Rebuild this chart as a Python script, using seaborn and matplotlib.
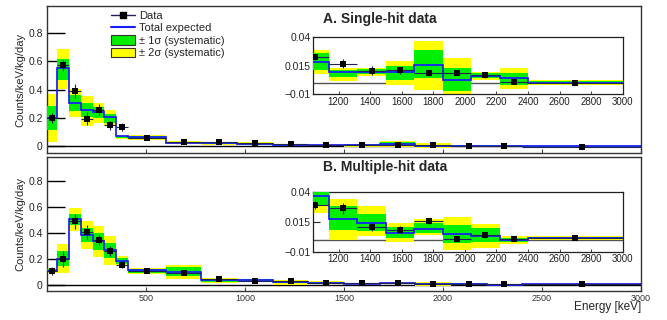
import numpy as np
import seaborn as sns
import matplotlib.pyplot as plt
from matplotlib.lines import Line2D
from matplotlib.patches import Patch

# Binning (keV)
edges = [0, 50, 110, 170, 230, 290, 350, 410, 600, 780, 960, 1140, 1320,
         1500, 1680, 1860, 2040, 2220, 2400, 3000]
energy = [25, 80, 140, 200, 260, 320, 380, 505, 690, 870, 1050, 1230, 1410,
          1590, 1770, 1950, 2130, 2310, 2700]

# A. Single-hit
data_a = [0.202, 0.572, 0.393, 0.195, 0.259, 0.148, 0.136, 0.062, 0.031, 0.031,
          0.0224, 0.0165, 0.0103, 0.0109, 0.0085, 0.0085, 0.0068, 0.0006, -0.0003]
err_a = [0.033, 0.04, 0.05, 0.047, 0.04, 0.035, 0.03, 0.006, 0.004, 0.004,
         0.0025, 0.004, 0.004, 0.003, 0.003, 0.002, 0.0025, 0.002, 0.001]
model_a = [0.202, 0.553, 0.306, 0.259, 0.24, 0.205, 0.071, 0.064, 0.028, 0.022,
           0.0185, 0.0091, 0.0098, 0.0091, 0.0153, 0.0024, 0.0059, 0.0041, 0.0]
g_lo_a = [0.118, 0.47, 0.247, 0.21, 0.2, 0.169, 0.06, 0.056, 0.022, 0.016,
          0.0112, 0.0047, 0.0076, 0.0024, 0.0038, -0.007, 0.0038, -0.002, -0.0012]
g_hi_a = [0.287, 0.619, 0.365, 0.31, 0.278, 0.23, 0.075, 0.075, 0.033, 0.028,
          0.0265, 0.0112, 0.012, 0.015, 0.0288, 0.0126, 0.0082, 0.0088, 0.0012]
y_lo_a = [0.035, 0.405, 0.207, 0.146, 0.169, 0.146, 0.052, 0.047, 0.018, 0.012,
          0.0076, 0.0015, 0.0059, -0.002, -0.0065, -0.012, 0.0024, -0.006, -0.002]
y_hi_a = [0.372, 0.689, 0.405, 0.358, 0.306, 0.254, 0.082, 0.082, 0.038, 0.032,
          0.0288, 0.0126, 0.0126, 0.0191, 0.0368, 0.022, 0.0097, 0.0132, 0.002]

# B. Multiple-hit
data_b = [0.105, 0.197, 0.487, 0.403, 0.344, 0.259, 0.154, 0.105, 0.09, 0.044,
          0.0293, 0.0265, 0.0108, 0.0085, 0.0156, 0.0004, 0.0038, 0.0004, 0.0015]
err_b = [0.03, 0.058, 0.06, 0.055, 0.04, 0.036, 0.03, 0.008, 0.008, 0.006,
         0.003, 0.0045, 0.0035, 0.003, 0.0025, 0.0025, 0.002, 0.0015, 0.001]
model_b = [0.105, 0.197, 0.505, 0.382, 0.333, 0.264, 0.18, 0.11, 0.095, 0.033,
           0.0372, 0.0172, 0.0144, 0.0057, 0.0091, 0.0049, 0.0035, -0.0004, 0.0015]
g_lo_b = [0.095, 0.141, 0.456, 0.328, 0.269, 0.205, 0.159, 0.092, 0.064, 0.018,
          0.0293, 0.0083, 0.0074, 0.0012, 0.0054, -0.003, -0.0021, -0.0021, 0.0003]
g_hi_b = [0.118, 0.256, 0.544, 0.436, 0.397, 0.32, 0.205, 0.12, 0.133, 0.042,
          0.043, 0.0288, 0.0215, 0.011, 0.0144, 0.0125, 0.0097, 0.0018, 0.0027]
y_lo_b = [0.087, 0.09, 0.415, 0.277, 0.21, 0.154, 0.141, 0.082, 0.044, 0.008,
          0.0223, 0.0, 0.0035, -0.0016, 0.004, -0.0086, -0.0072, -0.0038, -0.0004]
y_hi_b = [0.128, 0.313, 0.59, 0.487, 0.454, 0.377, 0.223, 0.128, 0.154, 0.05,
          0.045, 0.0341, 0.0285, 0.0139, 0.0172, 0.0195, 0.0133, 0.0032, 0.0035]

sns.set_style("ticks")
plt.rcParams['font.family'] = ['Liberation Sans', 'DejaVu Sans']

GREEN = "#00ee00"
YELLOW = "#ffff00"
BLUE = "#1a1aff"
NAVY = "#22225a"

e = np.array(edges, dtype=float)
left = e[:-1]
width = np.diff(e)
xc = np.array(energy, dtype=float)
xerr = [xc - left, e[1:] - xc]


def draw(ax, data, err, model, glo, ghi, ylo, yhi, zero_color):
    ax.axhline(0, color=zero_color, lw=1.0, zorder=1)
    ylo, yhi, glo, ghi = map(np.array, (ylo, yhi, glo, ghi))
    ax.bar(left, yhi - ylo, bottom=ylo, width=width, align="edge",
           color=YELLOW, linewidth=0, zorder=2)
    ax.bar(left, ghi - glo, bottom=glo, width=width, align="edge",
           color=GREEN, linewidth=0, zorder=3)
    ax.stairs(model, e, baseline=None, color=BLUE, lw=1.25, zorder=4)
    ax.errorbar(xc, data, yerr=err, xerr=xerr, fmt="none", ecolor=NAVY,
                elinewidth=0.8, capsize=0, zorder=5)
    sns.scatterplot(x=xc, y=data, marker="s", color="black", s=13,
                    linewidth=0, ax=ax, zorder=6, legend=False)


fig = plt.figure(figsize=(6.67, 3.2), dpi=100)
ax_a = fig.add_axes([0.0705, 0.5219, 0.8906, 0.459])
ax_b = fig.add_axes([0.0705, 0.0906, 0.8906, 0.419])
ins_a = fig.add_axes([0.4697, 0.7063, 0.4639, 0.1772])
ins_b = fig.add_axes([0.4697, 0.2134, 0.4639, 0.1856])

draw(ax_a, data_a, err_a, model_a, g_lo_a, g_hi_a, y_lo_a, y_hi_a, "black")
draw(ax_b, data_b, err_b, model_b, g_lo_b, g_hi_b, y_lo_b, y_hi_b, "black")
draw(ins_a, data_a, err_a, model_a, g_lo_a, g_hi_a, y_lo_a, y_hi_a, "#555555")
draw(ins_b, data_b, err_b, model_b, g_lo_b, g_hi_b, y_lo_b, y_hi_b, "#555555")

for ax, ylim in ((ax_a, (-0.046, 0.99)), (ax_b, (-0.05, 0.985))):
    ax.set_xlim(0, 3000)
    ax.set_ylim(*ylim)
    ax.set_yticks([0, 0.2, 0.4, 0.6, 0.8])
    ax.set_yticklabels(["0", "0.2", "0.4", "0.6", "0.8"])
    ax.set_xticks([500, 1000, 1500, 2000, 2500, 3000])
    ax.tick_params(axis="y", direction="in", length=13, width=1.0,
                   labelsize=7.5, pad=3, color="black")
    ax.tick_params(axis="x", direction="in", length=3, width=0.8,
                   labelsize=6.5, pad=2, color="#444444", labelcolor="#333333")
    ax.set_ylabel("Counts/keV/kg/day", fontsize=8)
    ax.yaxis.set_label_coords(-0.037, 0.5)
    for s in ax.spines.values():
        s.set_linewidth(1.0)
        s.set_color("#333333")
ax_a.set_xticklabels([])
ax_b.set_xlabel("Energy [keV]", fontsize=8.5, loc="right")
ax_b.xaxis.set_label_coords(1.0, -0.075)

for ins in (ins_a, ins_b):
    ins.set_xlim(1040, 3000)
    ins.set_ylim(-0.01, 0.04)
    ins.set_yticks([-0.01, 0.015, 0.04])
    ins.set_yticklabels(["\u22120.01", "0.015", "0.04"])
    ins.set_xticks(range(1200, 3001, 200))
    ins.tick_params(axis="y", direction="in", length=5, width=0.8,
                    labelsize=7.5, pad=2)
    ins.tick_params(axis="x", direction="in", length=2, width=0.6,
                    labelsize=7, pad=2, labelcolor="#222222")
    ins.set_xlabel("")
    ins.set_ylabel("")
    for s in ins.spines.values():
        s.set_linewidth(0.9)
        s.set_color("#222222")

ax_a.text(0.465, 0.909, "A. Single-hit data", transform=ax_a.transAxes,
          fontsize=10, fontweight="bold", va="center", ha="left")
ax_b.text(0.465, 0.928, "B. Multiple-hit data", transform=ax_b.transAxes,
          fontsize=10, fontweight="bold", va="center", ha="left")

handles = [
    Line2D([0], [0], color=NAVY, lw=1.0, marker="s", markersize=3.8,
           markerfacecolor="black", markeredgecolor="black"),
    Line2D([0], [0], color=BLUE, lw=1.5),
    Patch(facecolor=GREEN, edgecolor="#333333", linewidth=0.8),
    Patch(facecolor=YELLOW, edgecolor="#333333", linewidth=0.8),
]
labels = ["Data", "Total expected", "\u00b1 1\u03c3 (systematic)",
          "\u00b1 2\u03c3 (systematic)"]
ax_a.legend(handles, labels, loc="upper left", bbox_to_anchor=(0.095, 1.025),
            frameon=False, fontsize=8, borderpad=0.2, labelspacing=0.15,
            handlelength=2.1, handleheight=1.0, handletextpad=0.4)

fig.savefig("out.png", dpi=100)
